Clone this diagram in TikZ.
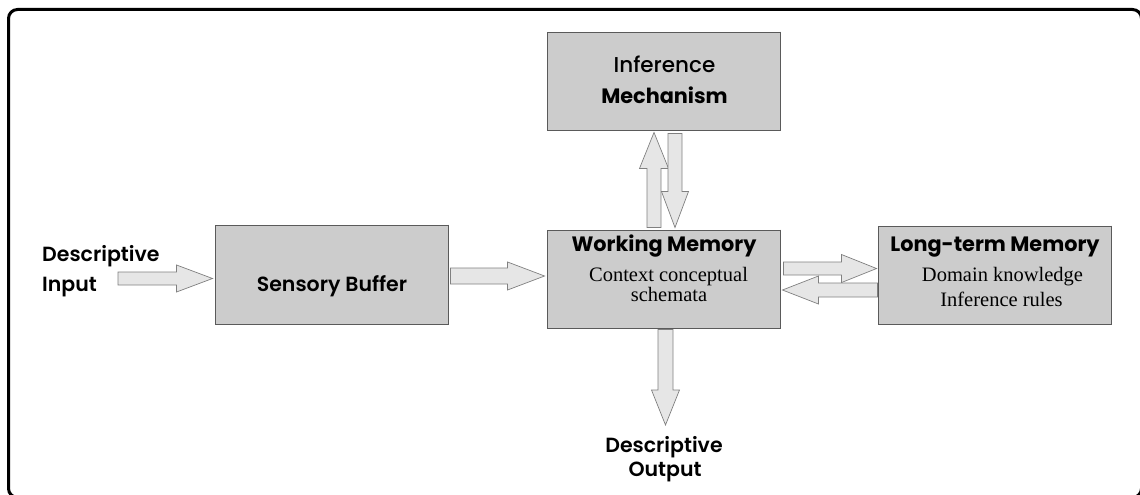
\documentclass[tikz,border=0pt]{standalone}
\usepackage{fontspec}
\setmainfont{Liberation Serif}
\newfontfamily\gfont{Poppins}
\newfontfamily\gmedfont{Poppins SemiBold}
\newfontfamily\gmidfont{Poppins Medium}
\usetikzlibrary{calc}
\definecolor{boxfill}{HTML}{CCCCCC}
\definecolor{boxline}{HTML}{5A5A5A}
\definecolor{arrfill}{HTML}{E6E6E6}
\definecolor{arrline}{HTML}{808080}
\tikzset{
  box/.style={draw=boxline, fill=boxfill, line width=0.9pt, minimum width=233pt, minimum height=98pt, inner sep=0pt},
  shadowline/.style={draw=boxline, line width=1.6pt},
  blockarr/.style={draw=arrline, fill=arrfill, line width=0.7pt, line join=miter},
  titletext/.style={inner sep=0pt, anchor=base, font=\gfont\bfseries\fontsize{20.8}{24}\selectfont},
  regtext/.style={inner sep=0pt, anchor=base, font=\gmidfont\fontsize{21.5}{24}\selectfont},
  medtext/.style={inner sep=0pt, anchor=base, font=\gmedfont\fontsize{20.5}{24}\selectfont},
  sertext/.style={inner sep=0pt, anchor=base, font=\fontsize{20.5}{24}\selectfont},
}
\newcommand\blkarrow[5]{%
  \coordinate (ba-h) at ($(#2)!#5!(#1)$);
  \draw[blockarr] ($(#1)!#3!90:(#2)$) -- ($(ba-h)!#3!-90:(#1)$) -- ($(ba-h)!#4!-90:(#1)$) -- (#2)
     -- ($(ba-h)!#4!90:(#1)$) -- ($(ba-h)!#3!90:(#1)$) -- ($(#1)!#3!-90:(#2)$) -- cycle;}
\begin{document}
\begin{tikzpicture}[x=1pt,y=-1pt]
\useasboundingbox (0,0) rectangle (1140,495);
\begin{scope}
\clip (0,0) rectangle (1140,495);
\draw[line width=3pt, rounded corners=9pt] (8.5,9.5) rectangle (1141.5,497.5);
\end{scope}
% boxes
\node[box, minimum height=99pt] (sb) at (331.5,274.5) {};
\node[box] (wm) at (663.5,279) {};
\node[box] (ltm) at (994.5,275) {};
\node[box] (im) at (663.5,81) {};
\foreach \n in {sb,wm,ltm,im}{
  \draw[shadowline] (\n.north east) -- (\n.south east) -- (\n.south west);
}
% texts
\node[medtext, anchor=base west] (dinA) at (42,261) {Descriptive};
\node[medtext, anchor=base west] (dinB) at (42,291) {Input};
\node[medtext] (sbt) at (332,291) {Sensory Buffer};
\node[titletext] (wmt) at (664,251) {Working Memory};
\node[sertext] (wm1) at (668.5,281) {Context conceptual};
\node[sertext] (wm2) at (669,301) {schemata};
\node[titletext] (ltmt) at (995,251) {Long-term Memory};
\node[sertext] (ltm1) at (1002.5,281) {Domain knowledge};
\node[sertext] (ltm2) at (1001.5,306) {Inference rules};
\node[regtext] (imt1) at (664.5,72.5) {Inference};
\node[titletext] (imt2) at (664.5,103) {Mechanism};
\node[medtext] (doutA) at (664,452) {Descriptive};
\node[medtext] (doutB) at (665,476) {Output};
% arrows
\coordinate (inS) at (118,278.5);
\coordinate (inE) at ($(sb.west)+(-2,4)$);
\blkarrow{inS}{inE}{6.5pt}{13.5pt}{36pt}
\coordinate (a2S) at ($(sb.east)+(2,1.5)$);
\coordinate (a2E) at ($(wm.west)+(-2,-3)$);
\blkarrow{a2S}{a2E}{8pt}{14pt}{37pt}
\coordinate (a3S) at ($(wm.east)+(3,-10.5)$);
\coordinate (a3E) at ($(ltm.west)+(-1,-6.5)$);
\blkarrow{a3S}{a3E}{6.5pt}{14pt}{35pt}
\coordinate (a4S) at ($(ltm.west)+(0,15)$);
\coordinate (a4E) at ($(wm.east)+(2,11)$);
\blkarrow{a4S}{a4E}{7pt}{14pt}{36pt}
\coordinate (a5S) at ($(wm.north)+(-9.5,-2)$);
\coordinate (a5E) at ($(im.south)+(-9.5,2)$);
\blkarrow{a5S}{a5E}{7pt}{14.5pt}{36pt}
\coordinate (a6S) at ($(im.south)+(11.5,3)$);
\coordinate (a6E) at ($(wm.north)+(11.5,-2)$);
\blkarrow{a6S}{a6E}{7pt}{13.5pt}{36pt}
\coordinate (a7S) at ($(wm.south)+(2,1)$);
\coordinate (outE) at (665.5,425);
\blkarrow{a7S}{outE}{7.5pt}{14pt}{35pt}
\end{tikzpicture}
\end{document}
